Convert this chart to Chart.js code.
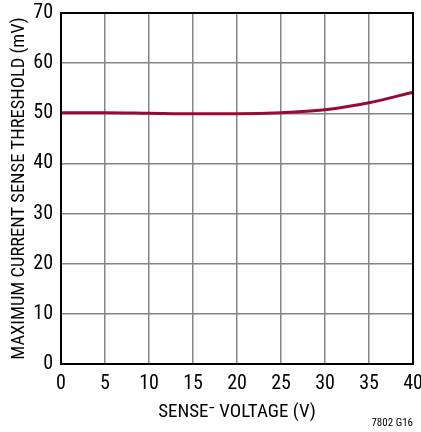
<!DOCTYPE html>
<html>
<head>
<meta charset="utf-8">
<script src="https://cdn.jsdelivr.net/npm/chart.js@4"></script>
<style>
  html, body { margin: 0; padding: 0; background: #fff; }
  #wrap { width: 421px; height: 432px; position: relative; }
</style>
</head>
<body>
<div id="wrap"><canvas id="c" width="421" height="432"></canvas></div>
<script>
// valores
const senseVoltage = [0, 5, 10, 15, 20, 25, 30, 35, 40];
const threshold = [50.1, 50.1, 50.0, 49.9, 49.9, 50.1, 50.7, 52.1, 54.2];
const xTicks = [0, 5, 10, 15, 20, 25, 30, 35, 40];
const yTicks = [0, 10, 20, 30, 40, 50, 60, 70];

const FONT = "'Liberation Sans Narrow', 'Roboto Condensed', 'Liberation Sans', sans-serif";

// marco negro alrededor del area + nota de figura
const framePlugin = {
  id: "frame",
  afterDraw(chart) {
    const { ctx, chartArea: a } = chart;
    ctx.save();
    ctx.strokeStyle = "#000";
    ctx.lineWidth = 2;
    ctx.strokeRect(a.left, a.top, a.right - a.left, a.bottom - a.top);
    ctx.fillStyle = "#000";
    ctx.font = "11px " + FONT;
    ctx.textAlign = "right";
    ctx.textBaseline = "alphabetic";
    ctx.fillText("7802 G16", 413, 426);
    ctx.restore();
  }
};

new Chart(document.getElementById("c"), {
  type: "line",
  data: {
    datasets: [{
      data: senseVoltage.map((v, i) => ({ x: v, y: threshold[i] })),
      borderColor: "#960b34",
      borderWidth: 3,
      pointRadius: 0,
      tension: 0.4,
      cubicInterpolationMode: "monotone",
      fill: false
    }]
  },
  options: {
    responsive: false,
    animation: false,
    layout: { padding: { left: 8, right: 8, top: 13, bottom: 8 } },
    plugins: { legend: { display: false }, tooltip: { enabled: false } },
    scales: {
      x: {
        type: "linear",
        min: 0, max: 40,
        afterBuildTicks: s => { s.ticks = xTicks.map(v => ({ value: v })); },
        afterFit: s => { s.height = 60; s.paddingLeft = 0; s.paddingRight = 0; },
        grid: { color: "#858585", lineWidth: 1.5, drawTicks: false },
        border: { display: false },
        ticks: { color: "#000", font: { family: FONT, size: 20 }, padding: 8, maxRotation: 0 },
        title: {
          display: true,
          text: "SENSE\u207B VOLTAGE (V)",
          color: "#000",
          font: { family: FONT, size: 19 },
          padding: { top: 7, bottom: 0 }
        }
      },
      y: {
        min: 0, max: 70,
        afterBuildTicks: s => { s.ticks = yTicks.map(v => ({ value: v })); },
        afterFit: s => { s.width = 53; s.paddingTop = 0; s.paddingBottom = 0; },
        grid: { color: "#858585", lineWidth: 1.5, drawTicks: false },
        border: { display: false },
        ticks: { color: "#000", font: { family: FONT, size: 20 }, padding: 8 },
        title: {
          display: true,
          text: "MAXIMUM CURRENT SENSE THRESHOLD (mV)",
          color: "#000",
          font: { family: FONT, size: 18.5 },
          padding: { top: 0, bottom: 2 }
        }
      }
    }
  },
  plugins: [framePlugin]
});
</script>
</body>
</html>
